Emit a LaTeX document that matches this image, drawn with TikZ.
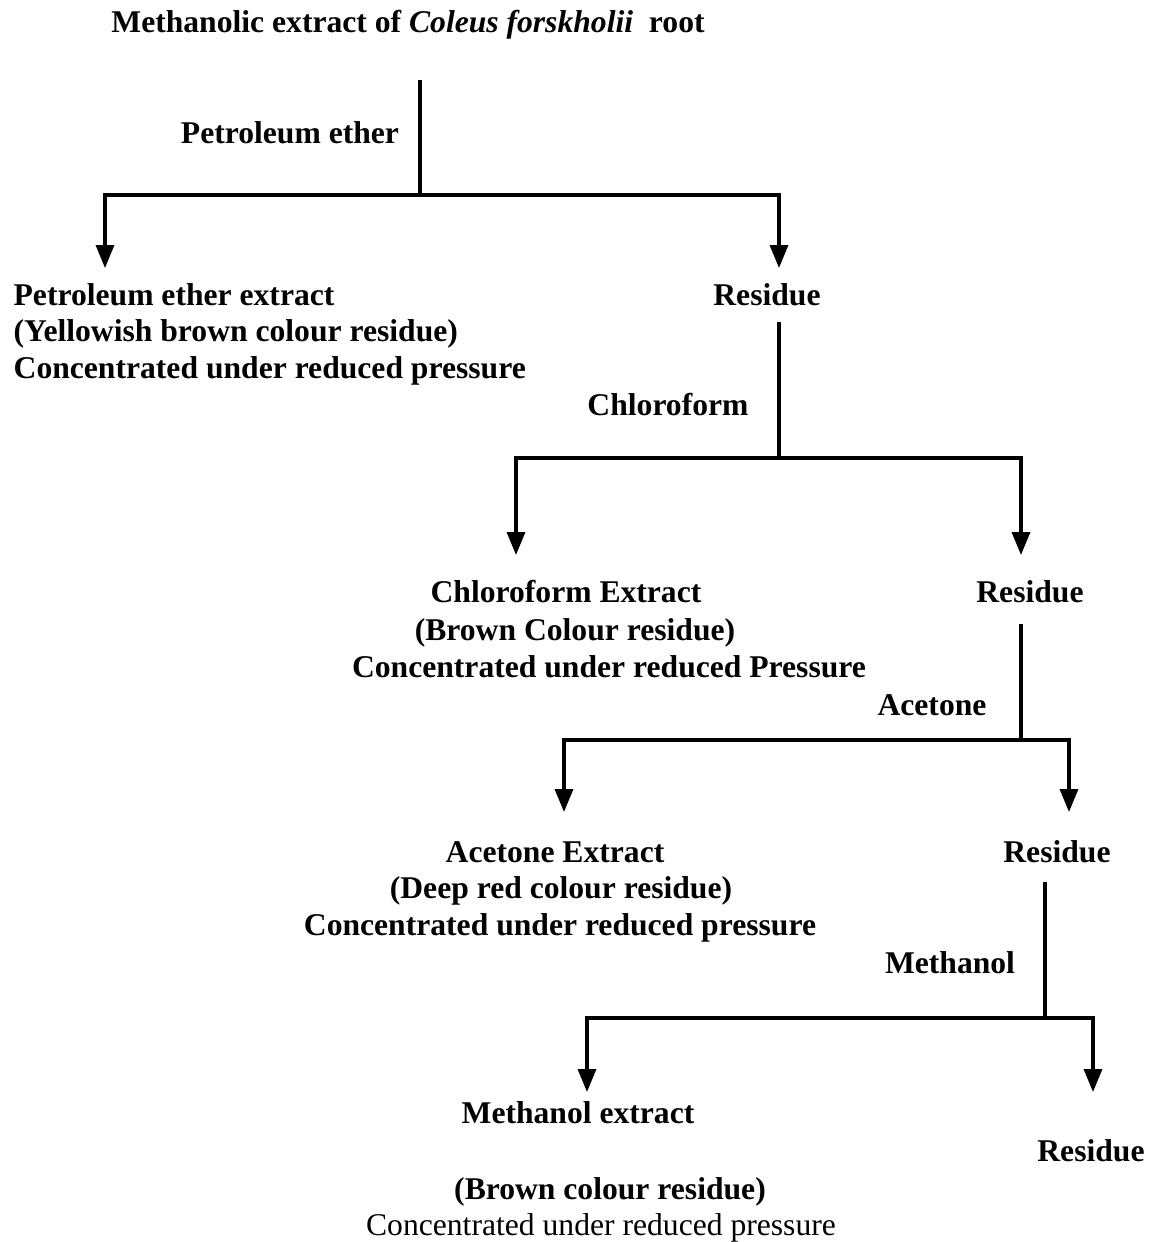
\documentclass[tikz,border=0pt]{standalone}
\usepackage{fontspec}
\setmainfont{Liberation Serif}
\usetikzlibrary{arrows.meta}

\tikzset{
  lbl/.style={font=\fontsize{18}{21.6}\selectfont\bfseries, inner sep=0pt, anchor=base},
  lblplain/.style={font=\fontsize{18}{21.6}\selectfont, inner sep=0pt, anchor=base},
  flow/.style={-{Triangle[length=0.46cm,width=0.36cm]}},
}

\begin{document}
\begin{tikzpicture}[x=0.02cm, y=-0.02cm, line width=1.9pt]
            \useasboundingbox (0,0) rectangle (1153,1242);

            % Đầu: dịch chiết methanol
            \node[lbl] (title) at (408,32) {Methanolic extract of \textit{Coleus forskholii}\ \ root};
            \node[lbl] (pe) at (290,143) {Petroleum ether};

            % Nhánh 1
            \coordinate (j1) at (420,195);
            \coordinate (a1l) at (105,268);
            \coordinate (a1r) at (779,268);
            \draw[shorten <=0.8cm] (title.south -| j1) -- (j1);
            \draw[flow] (j1) -| (a1l);
            \draw[flow] (j1) -| (a1r);

            \node[lbl, anchor=base west] (pex1) at (12,305) {Petroleum ether extract};
            \node[lbl, anchor=base west] (pex2) at (12,341) {(Yellowish brown colour residue)};
            \node[lbl, anchor=base west] (pex3) at (12,378) {Concentrated under reduced pressure};
            \node[lbl] (res1) at (767,305) {Residue};
            \node[lbl] (chl) at (668,415) {Chloroform};

            % Nhánh 2
            \coordinate (j2) at (779,458);
            \coordinate (a2l) at (516,555);
            \coordinate (a2r) at (1021,555);
            \draw[shorten <=0.3cm] (res1.south -| j2) -- (j2);
            \draw[flow] (j2) -| (a2l);
            \draw[flow] (j2) -| (a2r);

            \node[lbl] (cex1) at (566,602) {Chloroform Extract};
            \node[lbl] (cex2) at (575,640) {(Brown Colour residue)};
            \node[lbl] (cex3) at (609,677) {Concentrated under reduced Pressure};
            \node[lbl] (res2) at (1030,602) {Residue};
            \node[lbl] (ace) at (932,715) {Acetone};

            % Nhánh 3
            \coordinate (j3) at (1021,740);
            \coordinate (a3l) at (564,812);
            \coordinate (a3r) at (1069,812);
            \draw[shorten <=0.4cm] (res2.south -| j3) -- (j3);
            \draw[flow] (j3) -| (a3l);
            \draw[flow] (j3) -| (a3r);

            \node[lbl] (aex1) at (555,862) {Acetone Extract};
            \node[lbl] (aex2) at (561,898) {(Deep red colour residue)};
            \node[lbl] (aex3) at (560,935) {Concentrated under reduced pressure};
            \node[lbl] (res3) at (1057,862) {Residue};
            \node[lbl] (meth) at (950,973) {Methanol};

            % Nhánh 4
            \coordinate (j4) at (1045,1018);
            \coordinate (a4l) at (587,1092);
            \coordinate (a4r) at (1093,1092);
            \draw[shorten <=0.36cm] (res3.south -| j4) -- (j4);
            \draw[flow] (j4) -| (a4l);
            \draw[flow] (j4) -| (a4r);

            \node[lbl] (mex1) at (578,1123) {Methanol extract};
            \node[lbl] (res4) at (1091,1161) {Residue};
            \node[lbl] (mex2) at (610,1199) {(Brown colour residue)};
            \node[lblplain] (mex3) at (601,1235) {Concentrated under reduced pressure};
\end{tikzpicture}
\end{document}
